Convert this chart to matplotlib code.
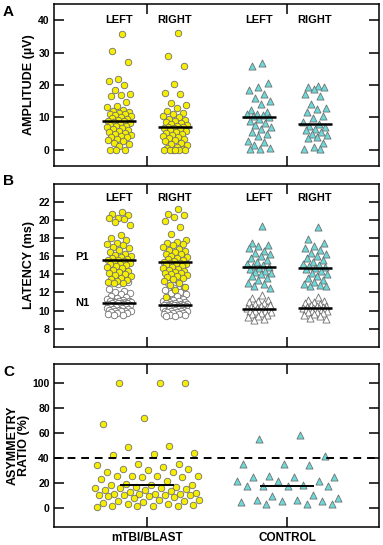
import numpy as np
import matplotlib.pyplot as plt

plt.rcParams['font.family'] = ['Liberation Sans', 'DejaVu Sans']
plt.rcParams['font.weight'] = 'bold'
plt.rcParams['font.size'] = 8

YELLOW = '#F5EE00'
CYAN = '#6CDADA'
EDGE = '#707070'

# group positions: mTBI left/right, control left/right
group_x = [0.8, 1.2, 1.8, 2.2]
side_labels = ['LEFT', 'RIGHT', 'LEFT', 'RIGHT']
cat_labels = ['mTBI/BLAST', 'CONTROL']

# ---- panel A: amplitude (uV)
amp_tbi_left = [35.6, 30.4, 27.2, 21.8, 21.2, 20.0, 18.6, 17.1, 16.8, 16.6, 14.9, 13.6,
                13.3, 12.3, 12.0, 11.7, 11.4, 11.2, 11.0, 10.6, 10.3, 10.0, 9.8, 9.6, 9.3,
                9.0, 8.8, 8.6, 8.3, 8.0, 7.8, 7.5, 7.2, 7.0, 6.8, 6.5, 6.2, 5.9, 5.6, 5.3,
                5.0, 4.7, 4.4, 4.1, 3.8, 3.4, 3.0, 2.7, 2.2, 1.7, 1.2, 0.0, 0.0, 0.0]
amp_tbi_right = [36.2, 29.0, 26.0, 20.3, 17.4, 17.1, 14.5, 13.8, 12.8, 12.0, 11.4, 11.0,
                 10.5, 10.0, 9.6, 9.2, 8.8, 8.5, 8.2, 7.9, 7.6, 7.3, 7.1, 7.0, 6.8, 6.6,
                 6.3, 6.0, 5.7, 5.4, 5.1, 4.8, 4.5, 4.2, 3.9, 3.6, 3.3, 3.0, 2.6, 2.2, 1.8,
                 1.4, 1.0, 0.6, 0.3, 0.0, 0.0, 0.0, 0.0, 0.0, 0.0]
amp_ctl_left = [26.7, 26.0, 20.6, 19.4, 18.6, 17.2, 16.0, 15.0, 14.2, 12.4, 11.8, 11.2,
                11.0, 10.6, 10.3, 10.0, 9.4, 8.8, 8.2, 7.6, 7.0, 6.4, 5.4, 5.0, 4.4, 2.8,
                2.4, 1.4, 0.6, 0.3, 0.3]
amp_ctl_right = [19.6, 19.4, 19.3, 18.8, 17.3, 16.5, 14.0, 13.0, 12.5, 11.8, 10.5, 9.7,
                 8.6, 8.0, 7.3, 7.0, 6.5, 6.0, 5.5, 5.0, 4.5, 4.0, 3.6, 2.0, 1.0, 0.4, 0.3]
amp_medians = [8.8, 7.0, 10.0, 8.0]

# ---- panel B: latency (ms), P1 and N1
p1_tbi_left = [20.9, 20.7, 20.6, 20.2, 20.2, 20.1, 19.8, 19.5, 18.4, 18.0, 17.8, 17.5,
               17.4, 17.2, 17.0, 16.9, 16.7, 16.5, 16.3, 16.1, 16.0, 15.9, 15.8, 15.7,
               15.6, 15.6, 15.5, 15.4, 15.3, 15.2, 15.1, 15.0, 14.9, 14.8, 14.7, 14.5,
               14.4, 14.3, 14.2, 14.0, 13.9, 13.8, 13.6, 13.5, 13.4, 13.3, 13.2, 13.1, 13.0]
p1_tbi_right = [21.2, 20.7, 20.6, 20.3, 19.9, 19.2, 18.5, 17.8, 17.6, 17.5, 17.4, 17.2,
                17.0, 16.8, 16.7, 16.6, 16.5, 16.3, 16.2, 16.0, 15.9, 15.8, 15.7, 15.6,
                15.5, 15.4, 15.3, 15.3, 15.2, 15.1, 15.0, 14.9, 14.8, 14.7, 14.6, 14.5,
                14.4, 14.3, 14.2, 14.1, 14.0, 13.9, 13.8, 13.7, 13.6, 13.5, 13.3, 13.1,
                12.8, 12.6, 12.3, 11.5]
p1_ctl_left = [19.3, 17.5, 17.3, 17.1, 16.9, 16.6, 16.4, 16.2, 16.0, 15.8, 15.6, 15.4,
               15.2, 15.0, 14.9, 14.8, 14.7, 14.6, 14.4, 14.3, 14.2, 14.0, 13.8, 13.6,
               13.4, 13.1, 12.9, 12.7, 12.5]
p1_ctl_right = [19.2, 17.9, 17.5, 17.1, 16.9, 16.7, 16.4, 16.2, 16.0, 15.8, 15.6, 15.4,
                15.2, 15.0, 14.9, 14.8, 14.7, 14.6, 14.4, 14.2, 14.0, 13.8, 13.6, 13.4,
                13.2, 12.9, 12.8, 12.7, 12.7]
n1_tbi_left = [13.5, 13.3, 13.2, 12.9, 12.4, 12.2, 12.0, 11.9, 11.8, 11.6, 11.5, 11.4,
               11.3, 11.2, 11.1, 11.1, 11.0, 11.0, 10.9, 10.9, 10.9, 10.8, 10.8, 10.8,
               10.8, 10.7, 10.7, 10.6, 10.6, 10.5, 10.5, 10.4, 10.4, 10.3, 10.3, 10.2,
               10.2, 10.1, 10.1, 10.0, 10.0, 9.9, 9.9, 9.8, 9.7, 9.7, 9.6, 9.5, 9.5]
n1_tbi_right = [13.3, 13.0, 12.6, 12.5, 12.3, 12.1, 11.9, 11.8, 11.6, 11.4, 11.3, 11.2,
                11.1, 11.0, 10.9, 10.9, 10.8, 10.8, 10.7, 10.7, 10.7, 10.6, 10.6, 10.6,
                10.6, 10.6, 10.5, 10.5, 10.5, 10.4, 10.4, 10.3, 10.3, 10.3, 10.2, 10.2,
                10.1, 10.1, 10.0, 10.0, 9.9, 9.9, 9.8, 9.8, 9.7, 9.7, 9.6, 9.6, 9.5, 9.5,
                9.4, 9.4]
n1_ctl_left = [11.7, 11.4, 11.2, 11.0, 10.9, 10.8, 10.7, 10.6, 10.5, 10.4, 10.4, 10.3,
               10.3, 10.2, 10.2, 10.1, 10.1, 10.0, 10.0, 9.9, 9.8, 9.7, 9.6, 9.5, 9.4,
               9.3, 9.1, 9.0, 10.6]
n1_ctl_right = [11.5, 11.2, 11.0, 10.9, 10.8, 10.7, 10.6, 10.5, 10.5, 10.4, 10.4, 10.3,
                10.3, 10.3, 10.2, 10.2, 10.1, 10.1, 10.0, 9.9, 9.9, 9.8, 9.8, 9.7, 9.6,
                9.5, 9.4, 9.2, 9.1]
p1_medians = [15.6, 15.35, 14.8, 14.7]
n1_medians = [10.8, 10.65, 10.15, 10.25]

# ---- panel C: asymmetry ratio (%)
asym_tbi = [100, 100, 100, 72, 66.7, 49.3, 48.8, 44, 42.7, 42.4, 35.2, 35.2, 33.9, 32.8,
            31.2, 31.2, 30.1, 28.5, 28.5, 25.9, 25.9, 25.3, 25.3, 24.8, 24.5, 23.2, 21.3,
            19.5, 18.7, 18.7, 18.7, 16.8, 16.5, 16.0, 16.0, 16.0, 15.2, 14.7, 14.1, 13.3,
            13.1, 12.0, 11.5, 11.2, 11.2, 11.2, 10.7, 10.4, 10.4, 10.1, 9.3, 9.3, 8.8, 8.0,
            6.7, 6.1, 5.9, 5.3, 4.8, 4.0, 3.5, 3.2, 2.1, 1.9, 1.9, 1.9, 1.9, 0.5]
asym_ctl = [57.9, 54.7, 41.3, 34.7, 34.7, 33.9, 25.9, 24.8, 24.5, 24.5, 21.9, 21.3, 21.3,
            18.7, 17.9, 17.9, 17.3, 17.3, 10.7, 9.3, 8.0, 6.1, 6.1, 5.3, 5.3, 5.1, 3.5,
            3.5, 3.2]
asym_medians = [18.7, 17.5]
asym_cutoff = 40


def jitter(n, width):
    # deterministic low-discrepancy spread (golden ratio) for the strip plot
    k = np.arange(1, n + 1)
    return ((k * 0.618034) % 1.0 - 0.5) * 2 * width


def strip(ax, x0, vals, width, marker, face, size):
    vals = np.asarray(vals, dtype=float)
    ax.scatter(x0 + jitter(len(vals), width), vals, s=size, marker=marker,
               facecolor=face, edgecolor=EDGE, linewidth=0.6, zorder=3)


def style(ax, ylim, yticks, ylabel):
    ax.set_xlim(0.336, 2.657)
    ax.set_ylim(*ylim)
    ax.set_yticks(yticks)
    ax.set_xticks([1, 2])
    ax.tick_params(axis='both', direction='in', length=7, width=1.1,
                   top=True, right=True, labelsize=7.5, pad=3)
    ax.tick_params(axis='x', labelbottom=False)
    for s in ax.spines.values():
        s.set_linewidth(1.1)
    ax.text(-0.077, 0.5, ylabel, transform=ax.transAxes, rotation=90,
            ha='center', va='center', fontsize=9, fontweight='bold')


fig = plt.figure(figsize=(3.83, 5.45), dpi=100)
axA = fig.add_axes([0.141, 0.6954, 0.8486, 0.2972])
axB = fig.add_axes([0.141, 0.3639, 0.8486, 0.2985])
axC = fig.add_axes([0.141, 0.0336, 0.8486, 0.2985])

# A
amp_groups = [amp_tbi_left, amp_tbi_right, amp_ctl_left, amp_ctl_right]
for i, (x0, vals) in enumerate(zip(group_x, amp_groups)):
    tbi = i < 2
    strip(axA, x0, vals, 0.09, 'o' if tbi else '^',
          YELLOW if tbi else CYAN, 22 if tbi else 26)
    axA.hlines(amp_medians[i], x0 - 0.12, x0 + 0.12, color='black', lw=1.8, zorder=5)
    axA.text(x0, 40, side_labels[i], ha='center', va='center', fontsize=8)
style(axA, (-5, 45), [0, 10, 20, 30, 40], 'AMPLITUDE (µV)')

# B
p1_groups = [p1_tbi_left, p1_tbi_right, p1_ctl_left, p1_ctl_right]
n1_groups = [n1_tbi_left, n1_tbi_right, n1_ctl_left, n1_ctl_right]
for i, x0 in enumerate(group_x):
    tbi = i < 2
    mk = 'o' if tbi else '^'
    sz = 22 if tbi else 26
    strip(axB, x0, n1_groups[i], 0.09, mk, 'white', sz)
    strip(axB, x0, p1_groups[i], 0.09, mk, YELLOW if tbi else CYAN, sz)
    axB.hlines([p1_medians[i], n1_medians[i]], x0 - 0.12, x0 + 0.12,
               color='black', lw=1.8, zorder=5)
    axB.text(x0, 22.4, side_labels[i], ha='center', va='center', fontsize=8)
axB.text(0.536, 15.9, 'P1', ha='center', va='center', fontsize=8)
axB.text(0.536, 10.85, 'N1', ha='center', va='center', fontsize=8)
style(axB, (6, 24), list(range(8, 23, 2)), 'LATENCY (ms)')

# C
strip(axC, 1.0, asym_tbi, 0.38, 'o', YELLOW, 22)
strip(axC, 2.0, asym_ctl, 0.38, '^', CYAN, 26)
axC.hlines(asym_medians[0], 1.0 - 0.19, 1.0 + 0.19, color='black', lw=1.4, zorder=5)
axC.hlines(asym_medians[1], 2.0 - 0.19, 2.0 + 0.19, color='black', lw=1.4, zorder=5)
axC.axhline(asym_cutoff, color='black', lw=1.4, ls=(0, (4, 3)), zorder=4)
style(axC, (-15, 115), [0, 20, 40, 60, 80, 100], '')
axC.text(-0.11, 0.5, 'ASYMMETRY\nRATIO (%)', transform=axC.transAxes, rotation=90,
         ha='center', va='center', fontsize=9, fontweight='bold', linespacing=1.0)
axC.tick_params(axis='x', labelbottom=True, labelsize=8.5, pad=4)
axC.set_xticklabels(cat_labels)

for letter, y in [('A', 0.9786), ('B', 0.668), ('C', 0.3174)]:
    fig.text(0.008, y, letter, ha='left', va='center', fontsize=11, fontweight='bold')

fig.savefig('out.png', dpi=100)
